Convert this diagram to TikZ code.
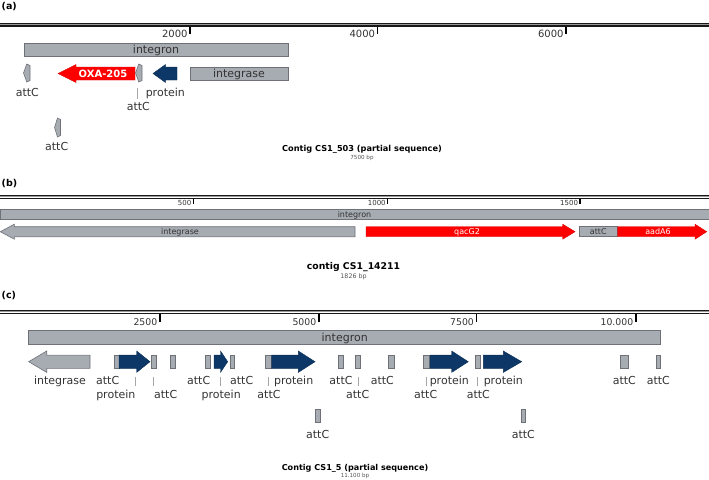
\documentclass[tikz,border=0pt]{standalone}
\usepackage{fontspec}
\setmainfont{DejaVu Sans}
\definecolor{gfill}{HTML}{A7ABB2}
\definecolor{gline}{HTML}{6E7278}
\definecolor{navy}{HTML}{0C3766}
\definecolor{redA}{HTML}{FF0000}
\definecolor{txt}{HTML}{333333}
\definecolor{smalltxt}{HTML}{555555}
\newcommand\FSz[1]{\fontsize{#1}{#1}\selectfont}
% right arrow: style, x1, head base, tip, yc, body half, head half
\newcommand\RArr[7]{\path[#1] (#2,{#5-#6}) -- (#3,{#5-#6}) -- (#3,{#5-#7}) -- (#4,#5) -- (#3,{#5+#7}) -- (#3,{#5+#6}) -- (#2,{#5+#6}) -- cycle;}
% left arrow: style, tip, head base, end, yc, body half, head half
\newcommand\LArr[7]{\path[#1] (#2,#5) -- (#3,{#5-#7}) -- (#3,{#5-#6}) -- (#4,{#5-#6}) -- (#4,{#5+#6}) -- (#3,{#5+#6}) -- (#3,{#5+#7}) -- cycle;}
% small attC pointer shape: x1, x2, y1, y2
\newcommand\AttS[4]{\path[gshape] (#1,{(#3+#4)/2}) -- ({#1+0.5*(#2-#1)},#3) -- (#2,{#3+1.5}) -- (#2,{#4-1.5}) -- ({#1+0.5*(#2-#1)},#4) -- cycle;}
\newcommand\Track[1]{%
  \draw[black!90,line width=1.4] (0,{#1-1.4}) -- (709,{#1-1.4});
  \draw[black!40,line width=1.3] (0,#1) -- (709,#1);
  \draw[black!90,line width=1.4] (0,{#1+1.4}) -- (709,{#1+1.4});}
\tikzset{
  gshape/.style={fill=gfill,draw=gline,line width=0.6},
  bshape/.style={fill=navy,draw=navy!80!black,line width=0.4},
  rshape/.style={fill=redA,draw=redA!85!black,line width=0.4},
  lab/.style={inner sep=0pt,text=txt,font=\FSz{11},anchor=base},
  labs/.style={inner sep=0pt,text=txt,font=\FSz{8},anchor=base},
  wlab/.style={inner sep=0pt,text=white,font=\FSz{8},anchor=base},
  ticklab/.style={inner sep=0pt,text=txt,anchor=base east},
  tickline/.style={draw=black,line width=1.2},
  lead/.style={draw=gray!70,line width=0.8},
  panel/.style={inner sep=0pt,anchor=base west,font=\bfseries\FSz{9.5}},
  title/.style={inner sep=0pt,anchor=base,font=\bfseries\FSz{#1}},
  sub/.style={inner sep=0pt,anchor=base,text=smalltxt,font=\FSz{#1}}
}
\begin{document}
\begin{tikzpicture}[x=1pt,y=-1pt]
\useasboundingbox (0,0) rectangle (709,479);
% ================= (a) =================
\node[panel] (pa) at (1.5,9.3) {(a)};
\Track{24.7}
\foreach \t/\l in {190/2000,377.5/4000,566/6000}{
  \draw[tickline] (\t,26.5) -- (\t,34.3);
  \node[ticklab,font=\FSz{10}] at ({\t-2.3},37.2) {\l};}
\path[gshape] (24,43) rectangle (288,56);
\node[lab] (a-integron) at (156,53.5) {integron};
\AttS{23.5}{30}{64}{82}
\node[lab] (a-att1) at (27.3,96.5) {attC};
\LArr{rshape}{58}{76}{135}{73.5}{6.5}{9}
\node[inner sep=0pt,anchor=base,text=white,font=\bfseries\FSz{10}] (a-oxa) at (103,77.3) {OXA-205};
\AttS{135.5}{142}{64}{82}
\draw[lead] (137.7,88.3) -- (137.7,99);
\node[lab] (a-att2) at (138.3,110) {attC};
\LArr{bshape}{153}{165.5}{177}{73.5}{6.5}{9}
\node[lab] (a-prot) at (165.3,96.5) {protein};
\path[gshape] (190,67) rectangle (288,80);
\node[lab] (a-int) at (239,77.5) {integrase};
\AttS{54.5}{60.5}{118}{137}
\node[lab] (a-att3) at (56.7,150) {attC};
\node[title=8.2] (a-title) at (362,151.5) {Contig CS1\_503 (partial sequence)};
\node[sub=5.6] (a-bp) at (362,159) {7500 bp};
% ================= (b) =================
\node[panel] (pb) at (1.5,186.3) {(b)};
\Track{196.8}
\foreach \t/\l in {193.3/500,387.7/1000,580/1500}{
  \draw[tickline] (\t,198.5) -- (\t,204);
  \node[ticklab,font=\FSz{7}] at ({\t-1.8},205.5) {\l};}
\path[gshape] (0,209.3) rectangle (709,219.3);
\node[labs] (b-integron) at (354.5,217.2) {integron};
\LArr{gshape}{0.3}{14.3}{355}{231.7}{5}{7.5}
\node[labs] (b-int) at (180,234.5) {integrase};
\RArr{rshape}{366}{562.7}{575}{231.7}{5}{7.5}
\node[wlab] (b-qac) at (467,234.5) {qacG2};
\path[gshape] (579,226.7) rectangle (617.7,236.7);
\node[labs] (b-att) at (598.3,234.5) {attC};
\RArr{rshape}{617.7}{695}{706.7}{231.7}{5}{7.5}
\node[wlab] (b-aad) at (658,234.5) {aadA6};
\node[title=9.3] (b-title) at (353.5,269.5) {contig CS1\_14211};
\node[sub=6.3] (b-bp) at (353.5,278) {1826 bp};
% ================= (c) =================
\node[panel] (pc) at (1.5,298.3) {(c)};
\Track{311.8}
\foreach \t/\l in {160/2500,319/5000,476.7/7500,636/10.000}{
  \draw[tickline] (\t,313.5) -- (\t,322);
  \node[ticklab,font=\FSz{9.3}] at ({\t-2.6},325.5) {\l};}
\path[gshape] (28.7,330.7) rectangle (660.7,344.3);
\node[lab] (c-integron) at (344.7,341.5) {integron};
\LArr{gshape}{28.7}{46.7}{90}{361.7}{6.6}{10.7}
\foreach \a/\b in {114.3/119,151.7/156,170.7/175.7,205/210,230/234.3,265.7/271,338.3/343.3,355.7/360.3,388.3/394,423.3/429.3,475/480.7,620/628.3,656/660.7}{
  \path[gshape] (\a,355) rectangle (\b,368.3);}
\foreach \a/\b in {315/320,521/525.7}{
  \path[gshape] (\a,409.3) rectangle (\b,422.7);}
\RArr{bshape}{119}{136.7}{150}{361.7}{6.6}{10.7}
\RArr{bshape}{214}{220.5}{227.7}{361.7}{6.6}{10.7}
\RArr{bshape}{271.5}{298.3}{315}{361.7}{6.6}{10.7}
\RArr{bshape}{430}{451.7}{468.3}{361.7}{6.6}{10.7}
\RArr{bshape}{483.3}{503.3}{521.7}{361.7}{6.6}{10.7}
\foreach \x in {135,153.3,220.7,268.3,358.3,426,477.7}{
  \draw[lead] (\x,376.7) -- (\x,385.5);}
% row 1 labels
\node[lab] (c-int) at (60,384) {integrase};
\node[lab] (c-a1) at (107.7,384) {attC};
\node[lab] (c-a3) at (198.7,384) {attC};
\node[lab] (c-a4) at (241.7,384) {attC};
\node[lab] (c-p3) at (293.7,384) {protein};
\node[lab] (c-a6) at (341,384) {attC};
\node[lab] (c-a8) at (382.3,384) {attC};
\node[lab] (c-p4) at (449.3,384) {protein};
\node[lab] (c-p5) at (503.3,384) {protein};
\node[lab] (c-a12) at (624.3,384) {attC};
\node[lab] (c-a13) at (658.3,384) {attC};
% row 2 labels
\node[lab] (c-p1) at (115.8,398) {protein};
\node[lab] (c-a2) at (165.7,398) {attC};
\node[lab] (c-p2) at (221.2,398) {protein};
\node[lab] (c-a5) at (269,398) {attC};
\node[lab] (c-a7) at (357.7,398) {attC};
\node[lab] (c-a9) at (425.7,398) {attC};
\node[lab] (c-a10) at (478.3,398) {attC};
% lower labels
\node[lab] (c-l1) at (317.7,438) {attC};
\node[lab] (c-l2) at (523.3,438) {attC};
\node[title=8.1] (c-title) at (355,470.5) {Contig CS1\_5 (partial sequence)};
\node[sub=5.6] (c-bp) at (355,477.5) {11.100 bp};
\end{tikzpicture}
\end{document}
